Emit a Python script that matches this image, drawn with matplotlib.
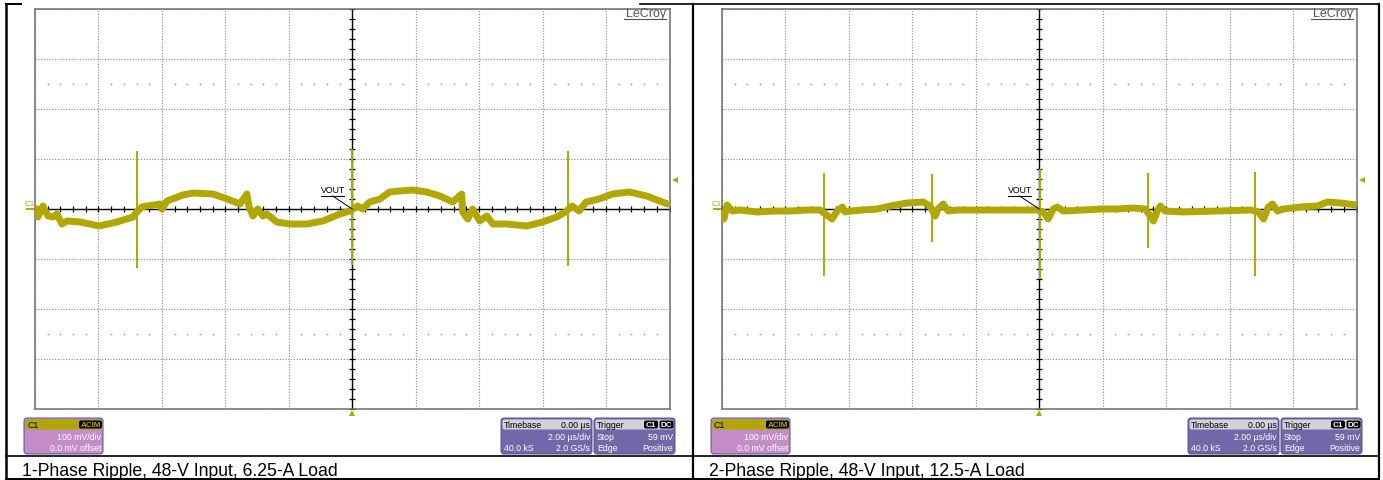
import numpy as np
import matplotlib.pyplot as plt
import matplotlib.transforms as mtransforms
from matplotlib.patches import FancyBboxPatch

plt.rcParams['font.family'] = ['Liberation Sans', 'DejaVu Sans']

W, H = 1383, 481
TRACE = '#B0A800'

# --- data (time in us, voltage in mV, 100 mV/div, 2 us/div)
left_t = [-10.0, -9.91, -9.75, -9.59, -9.43, -9.31, -9.15, -8.99, -8.58, -7.98, -7.42, -6.91,
          -6.82, -6.76, -6.63, -6.47, -6.06, -6.00, -5.84, -5.34, -5.02, -4.39, -3.94, -3.54,
          -3.32, -3.26, -3.13, -2.98, -2.82, -2.69, -2.38, -1.97, -1.43, -0.93, -0.39, -0.08,
          0.03, 0.17, 0.33, 0.55, 0.87, 1.18, 1.50, 1.91, 2.35, 2.76, 3.17, 3.45, 3.48, 3.64,
          3.79, 4.02, 4.24, 4.43, 4.87, 5.50, 6.00, 6.44, 6.72, 6.82, 6.93, 7.15, 7.37, 7.78,
          8.20, 8.74, 9.28, 9.69, 9.94, 10.0]
left_mv = [6, -16, 6, -14, -16, -10, -30, -24, -26, -34, -26, -16,
           -8, -4, 4, 6, 10, 0, 16, 28, 32, 30, 20, 10,
           30, 6, -14, 0, -14, -10, -26, -30, -30, -24, -10, -4,
           0, 6, 0, 14, 20, 34, 36, 38, 34, 26, 14, 30, -6, -20,
           0, -24, -14, -30, -30, -34, -26, -16, -6, 0, 6, -4, 14, 20,
           30, 34, 26, 16, 10, 12]
left_spike_t = [-6.79, 0.0, 6.79]
left_spike_hi = [116, 120, 116]
left_spike_lo = [-118, -112, -114]

right_t = [-9.99, -9.94, -9.84, -9.68, -9.43, -8.90, -8.39, -7.85, -7.32, -6.91,
           -6.66, -6.53, -6.37, -6.21, -6.12, -5.96, -5.55, -5.11, -4.70, -4.16, -3.66, -3.44,
           -3.28, -3.19, -3.03, -2.87, -2.59, -2.08, -1.55, -1.01, -0.50, -0.06,
           0.13, 0.28, 0.44, 0.57, 0.76, 1.39, 1.92, 2.46, 2.97, 3.34,
           3.50, 3.60, 3.72, 3.82, 3.97, 4.54, 5.62, 6.66,
           6.91, 7.07, 7.22, 7.35, 7.51, 7.70, 8.23, 8.77, 9.09, 9.50, 10.0]
right_mv = [-4, -20, 8, -4, -2, -6, -4, -4, -2, -2,
            -14, -20, -4, 4, -6, -4, -2, 0, 6, 12, 14, 6,
            -14, 0, 10, -4, -2, -2, -2, -2, -2, -2,
            -6, -20, 0, 4, -4, -2, 0, 0, 2, 0,
            -14, -24, -4, 6, -4, -6, -4, -2,
            -6, -20, 4, 10, -4, 0, 4, 6, 14, 12, 8]
right_spike_t = [-6.77, -3.37, 0.02, 3.43, 6.79]
right_spike_hi = [72, 70, 80, 72, 74]
right_spike_lo = [-134, -66, -140, -78, -134]

captions = ['1-Phase Ripple, 48-V Input, 6.25-A Load',
            '2-Phase Ripple, 48-V Input, 12.5-A Load']
trigger_mv = 59

fig = plt.figure(figsize=(W / 100, H / 100), dpi=100)

# overlay in pixel coordinates for the table and the scope readouts
ov = fig.add_axes([0, 0, 1, 1])
ov.set_xlim(0, W)
ov.set_ylim(H, 0)
ov.axis('off')


def px_axes(x0, y0, x1, y1):
    return fig.add_axes([x0 / W, 1 - y1 / H, (x1 - x0) / W, (y1 - y0) / H])


def box_text(x, y, s, ha='left', color='white'):
    ov.text(x, y, s, ha=ha, va='center', fontsize=6.3, color=color)


def badge(x0, y0, w, s, color):
    ov.add_patch(FancyBboxPatch((x0, y0), w, 8, boxstyle='round,pad=0,rounding_size=2',
                                fc='black', ec='none'))
    ov.text(x0 + w / 2, y0 + 4.3, s, ha='center', va='center', fontsize=5.8,
            color=color, fontweight='bold')


def info_box(x0, w, head, body):
    y0 = 419
    ov.add_patch(FancyBboxPatch((x0, y0), w, 36, boxstyle='round,pad=0,rounding_size=3',
                                fc=body, ec='#55508a', lw=0.7))
    ov.add_patch(FancyBboxPatch((x0 + 1.5, y0 + 1.5), w - 3, 10,
                                boxstyle='round,pad=0,rounding_size=2', fc=head, ec='none'))
    return y0


def draw_screen(dx, t, mv, st, shi, slo, caption):
    ax = px_axes(35 + dx, 10, 669.5 + dx, 410)
    ax.set_xlim(-10, 10)
    ax.set_ylim(-400, 400)
    ax.set_xticks(np.arange(-10, 11, 2))
    ax.set_yticks(np.arange(-400, 401, 100))
    ax.tick_params(length=0, labelbottom=False, labelleft=False)
    ax.grid(True, color='#8a8a8a', lw=0.8, ls=(0, (1, 1.5)))
    for sp in ax.spines.values():
        sp.set_color('#6e6e6e')
        sp.set_linewidth(1.1)

    # center axes with minor ticks
    ax.axhline(0, color='black', lw=1.0, zorder=2)
    ax.axvline(0, color='black', lw=1.0, zorder=2)
    ax.plot(np.arange(-10, 10.01, 0.4), np.zeros(51), ls='none', marker='|', ms=4.5,
            mew=0.9, color='black', zorder=2)
    ax.plot(np.zeros(41), np.arange(-400, 401, 20), ls='none', marker='_', ms=4.5,
            mew=0.9, color='black', zorder=2)
    xd = [x for x in np.arange(-10, 10.01, 0.4) if abs(x / 2 - round(x / 2)) > 0.01]
    for yy in (250, -250):
        ax.plot(xd, [yy] * len(xd), ls='none', marker='s', ms=1.1, color='#9a9a9a', mew=0)

    # trace
    ax.plot(t, mv, color=TRACE, lw=5.0, solid_joinstyle='round', solid_capstyle='butt', zorder=4)
    ax.vlines(st, slo, shi, color=TRACE, lw=1.4, zorder=4)

    # VOUT label
    ax.text(-0.62, 29, 'VOUT', ha='center', va='bottom', fontsize=6.3, color='black', zorder=5)
    ax.plot([-1.0, -0.25], [26, 26], color='black', lw=0.7, zorder=5)
    ax.plot([-0.62, 0], [26, 0], color='black', lw=0.7, zorder=5)

    # LeCroy logo
    ax.text(0.995, 0.9825, 'LeCroy', ha='right', va='baseline', fontsize=9,
            color='#555555', transform=ax.transAxes)
    ax.plot([0.929, 0.995], [0.975, 0.975], color='#555555', lw=0.8, transform=ax.transAxes)

    # trigger level and position markers
    tr = mtransforms.blended_transform_factory(ax.transAxes, ax.transData)
    ax.plot([1.009], [trigger_mv], marker='<', ms=5, color=TRACE, mew=0,
            transform=tr, clip_on=False)
    tb = mtransforms.blended_transform_factory(ax.transData, ax.transAxes)
    ax.plot([0], [-0.009], marker='^', ms=5, color=TRACE, mew=0, transform=tb, clip_on=False)

    # channel marker
    ov.text(25 + dx, 205, 'C1', fontsize=5.8, color=TRACE, va='center')
    ov.plot([27 + dx, 35 + dx], [210, 210], color=TRACE, lw=1.4)

    # readout boxes
    y0 = info_box(24 + dx, 79, TRACE, '#C48DC7')
    box_text(27 + dx, y0 + 6.5, 'C1', color='black')
    badge(79 + dx, y0 + 2.5, 23, 'ACIM', TRACE)
    box_text(101 + dx, y0 + 18.5, '100 mV/div', ha='right')
    box_text(101 + dx, y0 + 29.5, '0.0 mV offset', ha='right')

    y0 = info_box(501 + dx, 91, '#D2D2DA', '#7068A8')
    box_text(504 + dx, y0 + 6.5, 'Timebase', color='black')
    box_text(590 + dx, y0 + 6.5, '0.00 µs', ha='right', color='black')
    box_text(590 + dx, y0 + 18.5, '2.00 µs/div', ha='right')
    box_text(504 + dx, y0 + 29.5, '40.0 kS')
    box_text(590 + dx, y0 + 29.5, '2.0 GS/s', ha='right')

    y0 = info_box(594 + dx, 81, '#D2D2DA', '#7068A8')
    box_text(597 + dx, y0 + 6.5, 'Trigger', color='black')
    badge(644 + dx, y0 + 2.5, 14, 'C1', 'white')
    badge(659.5 + dx, y0 + 2.5, 14, 'DC', 'white')
    box_text(597 + dx, y0 + 18.5, 'Stop')
    box_text(673 + dx, y0 + 18.5, f'{trigger_mv} mV', ha='right')
    box_text(597 + dx, y0 + 29.5, 'Edge')
    box_text(673 + dx, y0 + 29.5, 'Positive', ha='right')

    ov.text(22 + dx, 476, caption, fontsize=12.7, va='baseline', color='black')


draw_screen(0, left_t, left_mv, left_spike_t, left_spike_hi, left_spike_lo, captions[0])
draw_screen(687, right_t, right_mv, right_spike_t, right_spike_hi, right_spike_lo, captions[1])

# table borders
ov.plot([6, 6], [5, 480], color='black', lw=1.8)
ov.plot([692.5, 692.5], [5, 480], color='black', lw=1.6)
ov.plot([1378.5, 1378.5], [5, 480], color='black', lw=1.6)
ov.plot([6, 21], [5, 5], color='black', lw=1.4)
ov.plot([640, 1378.5], [5, 5], color='black', lw=1.2)
ov.plot([6, 1378.5], [457, 457], color='black', lw=1.2)
ov.plot([6, 1378.5], [480, 480], color='black', lw=1.4)

plt.savefig('out.png', dpi=100)
